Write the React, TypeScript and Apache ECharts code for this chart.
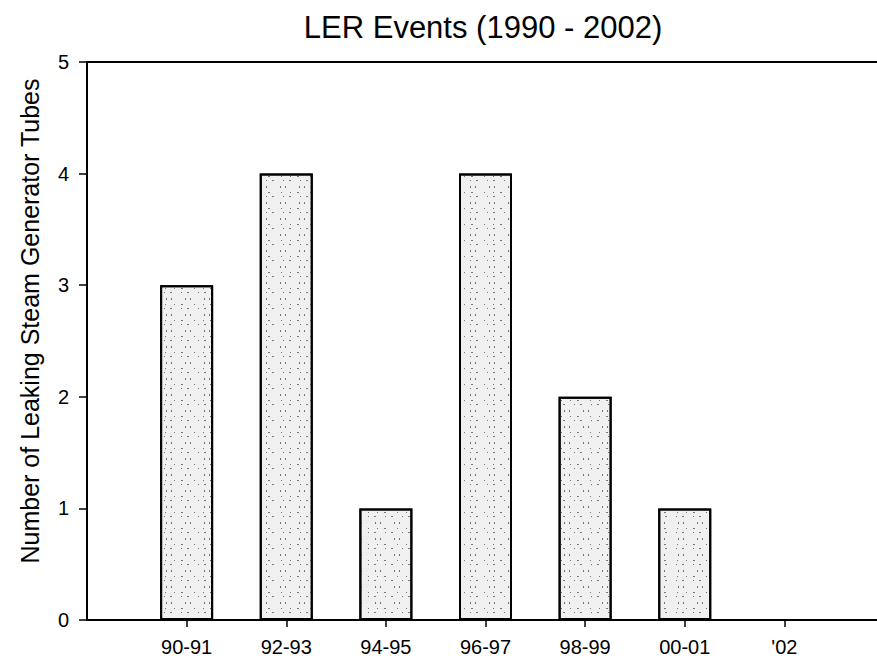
import React, { useEffect, useRef } from "react";
import * as echarts from "echarts";

const chartTitle = "LER Events (1990 - 2002)";
const yAxisTitle = "Number of Leaking Steam Generator Tubes";
const categories = ["90-91", "92-93", "94-95", "96-97", "98-99", "00-01", "'02"];
const tubeCounts = [3, 4, 1, 4, 2, 1, 0];
const yMin = 0;
const yMax = 5;
const yStep = 1;

const FONT = "'Liberation Sans', Arial, Helvetica, sans-serif";

export default function App() {
  const ref = useRef<HTMLDivElement>(null);
  useEffect(() => {
    if (!ref.current) return;
    const chart = echarts.init(ref.current, null, { renderer: "svg" });
    // pad one empty slot at each end so the category points sit where the original axis places them
    const axisCats = ["", ...categories, " "];
    const axisVals: (number | string)[] = ["-", ...tubeCounts, "-"];
    const isReal = (_i: number, v: string) => v.trim() !== "";
    chart.setOption({
      animation: false,
      backgroundColor: "#ffffff",
      textStyle: { fontFamily: FONT },
      title: {
        text: chartTitle,
        left: 478,
        top: 7,
        textAlign: "center",
        textStyle: { fontFamily: FONT, fontSize: 31, fontWeight: "normal", color: "#000" },
      },
      grid: { left: 87, top: 62, bottom: 40, width: 797, containLabel: false },
      xAxis: [
        {
          type: "category",
          data: axisCats,
          boundaryGap: false,
          axisLine: { show: true, lineStyle: { color: "#000", width: 2 } },
          axisTick: { show: true, interval: isReal, length: 7, lineStyle: { color: "#000", width: 1.5 } },
          axisLabel: { interval: 0, fontSize: 20, color: "#000", margin: 17, fontFamily: FONT },
          splitLine: { show: false },
        },
        {
          type: "category",
          data: axisCats,
          boundaryGap: false,
          position: "top",
          axisLine: { show: true, lineStyle: { color: "#000", width: 2 } },
          axisTick: { show: false },
          axisLabel: { show: false },
          splitLine: { show: false },
        },
      ],
      yAxis: {
        type: "value",
        min: yMin,
        max: yMax,
        interval: yStep,
        name: yAxisTitle,
        nameLocation: "middle",
        nameGap: 45,
        nameTextStyle: { fontSize: 25, color: "#000", fontFamily: FONT, padding: [0, 0, 0, 40] },
        axisLine: { show: true, lineStyle: { color: "#000", width: 2 } },
        axisTick: { show: true, length: 8, lineStyle: { color: "#000", width: 1.5 } },
        axisLabel: { fontSize: 20, color: "#000", margin: 18, fontFamily: FONT },
        splitLine: { show: false },
      },
      series: [
        {
          type: "bar",
          xAxisIndex: 0,
          data: axisVals,
          barWidth: 53,
          itemStyle: {
            color: "#f0f0f0",
            borderColor: "#000",
            borderWidth: 2,
            decal: {
              symbol: "rect",
              symbolSize: 1,
              color: "rgba(40,40,40,0.6)",
              dashArrayX: [[1, 6, 2, 11, 1, 8], [2, 9, 1, 5], [1, 13, 1, 4]],
              dashArrayY: [1, 3, 1, 5, 2, 4],
              rotation: 0,
            },
          },
        },
      ],
    });
    return () => chart.dispose();
  }, []);
  return (
    <div style={{ position: "absolute", left: 0, top: 0, width: 877, height: 660, overflow: "hidden" }}>
      <div ref={ref} style={{ width: 900, height: 660 }} />
    </div>
  );
}
